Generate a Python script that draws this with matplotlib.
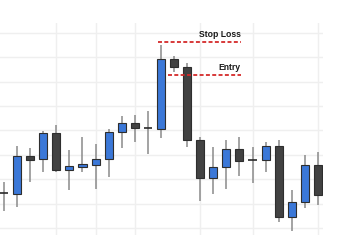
import matplotlib
matplotlib.use("Agg")
import matplotlib.pyplot as plt
import numpy as np

opens  = [114.3, 113.9, 129.5, 128.3, 138.9, 123.8, 125.0, 125.8, 128.3, 139.3, 143.0, 141.0, 140.6,
          169.3, 166.0, 136.1, 120.5, 125.0, 132.4, 127.9, 127.9, 133.6, 104.5, 110.7, 125.8]
highs  = [118.9, 133.6, 132.8, 139.8, 142.2, 132.0, 137.3, 134.4, 140.6, 145.9, 146.3, 148.0, 175.0,
          170.5, 167.6, 137.3, 133.2, 136.1, 137.3, 133.2, 135.2, 136.1, 115.6, 129.9, 131.1]
lows   = [107.0, 108.6, 118.9, 123.0, 123.0, 115.6, 123.0, 116.0, 120.9, 132.8, 135.2, 130.3, 136.9,
          163.9, 133.2, 111.1, 113.9, 116.0, 121.3, 118.4, 123.0, 102.5, 98.8, 108.2, 109.4]
closes = [114.3, 129.5, 127.9, 138.9, 123.8, 125.4, 126.2, 128.3, 139.3, 143.0, 141.0, 141.0, 169.3,
          166.0, 136.1, 120.5, 125.0, 132.4, 127.5, 127.9, 133.6, 104.5, 110.7, 125.8, 113.5]
grid_prices = [100, 110, 120, 130, 140, 150, 160, 170, 180]
grid_candles = [4, 7, 10, 15, 19, 24]
stop_loss = 176.2
entry = 162.7
stop_label = "Stop Loss"
entry_label = "Entry"

fig = plt.figure(figsize=(3.39, 2.50), dpi=100)
ax = fig.add_axes([0, 15/250, 323/339, 212/250])

x = np.arange(len(opens))
ax.set_xlim(-0.306, 24.39)
ax.set_ylim(97.1, 184.0)

for gp in grid_prices:
    ax.axhline(gp, color="#efefef", lw=1.0, zorder=0)
for gc in grid_candles:
    ax.axvline(gc, color="#efefef", lw=1.0, zorder=0)

blue = "#3b78d8"
dark = "#424242"
w = 0.62
for i, (o, h, l, c) in enumerate(zip(opens, highs, lows, closes)):
    ax.vlines(i, l, h, color="#8a8a8a", lw=1.1, zorder=1)
    if abs(c - o) < 0.01:
        ax.hlines(o, i - w/2, i + w/2, color="#2a2a2a", lw=1.2, zorder=2)
    else:
        col = blue if c > o else dark
        ax.bar(i, abs(c - o), bottom=min(o, c), width=w, color=col,
               edgecolor="#2e2e2e", linewidth=0.8, zorder=2)

ax.hlines(stop_loss, 11.8, 18.1, color="#d42a2a", lw=1.3, linestyles=(0, (2.2, 1.3)), zorder=3)
ax.hlines(entry, 12.55, 18.1, color="#d42a2a", lw=1.3, linestyles=(0, (2.2, 1.3)), zorder=3)
ax.text(18.1, stop_loss + 1.2, stop_label, ha="right", va="bottom", fontsize=6.2,
        family="Liberation Sans", weight="bold", color="#1a1a1a")
ax.text(18.1, entry + 1.2, entry_label, ha="right", va="bottom", fontsize=6.2,
        family="Liberation Sans", weight="bold", color="#1a1a1a")

ax.set_xticks([])
ax.set_yticks([])
for s in ax.spines.values():
    s.set_visible(False)

fig.savefig("out.png", dpi=100)
